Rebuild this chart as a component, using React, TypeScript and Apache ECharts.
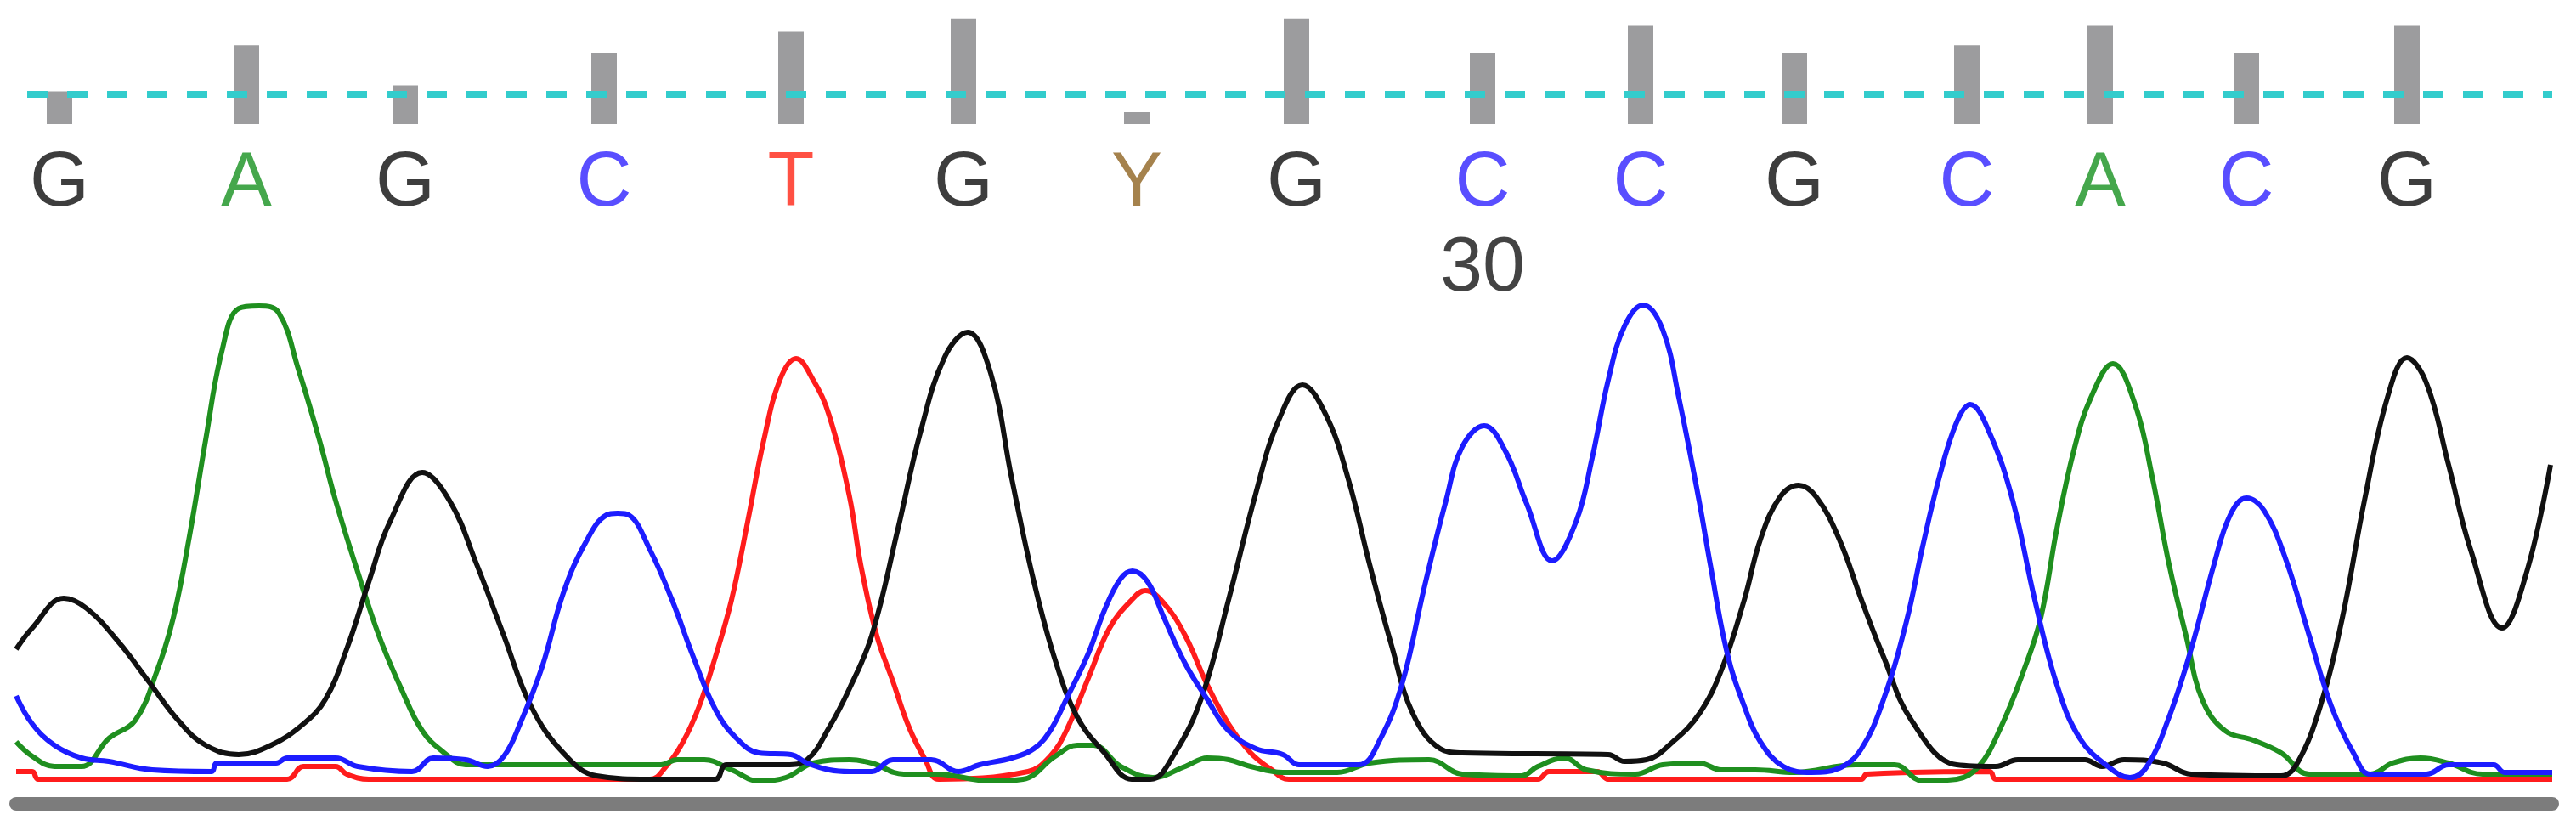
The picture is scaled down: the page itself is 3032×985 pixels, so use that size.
import React, { useEffect, useRef } from "react";
import * as echarts from "echarts";

// Base calls (scan position of each call, quality value)
const bases = ["G", "A", "G", "C", "T", "G", "Y", "G", "C", "C", "G", "C", "A", "C", "G"];
const basePositions = [51, 271, 458, 692, 912, 1115, 1319, 1507, 1726, 1912, 2093, 2296, 2453, 2625, 2814];
const qualities = [22, 53, 26, 48, 62, 71, 8, 71, 48, 66, 48, 53, 66, 48, 66];
const qualityThreshold = 20;
const firstBaseNumber = 22;
const positionMarks = [30];

// Trace samples: [scan, signal]
const traceG: number[][] = [
  [0, 182], [19, 207], [56, 242], [83, 230], [121, 190], [156, 144], [191, 98], [223, 69], [262, 58],
  [300, 69], [338, 94], [364, 123], [389, 182], [415, 261], [440, 332], [478, 390], [510, 357],
  [542, 282], [574, 198], [606, 115], [644, 60], [683, 33], [746, 29], [823, 29], [836, 46], [906, 46],
  [931, 52], [957, 90], [981, 136], [1007, 198], [1038, 324], [1064, 436], [1093, 526], [1120, 555],
  [1147, 507], [1172, 382], [1198, 261], [1223, 169], [1249, 102], [1281, 60], [1313, 29], [1335, 29],
  [1364, 60], [1396, 127], [1427, 240], [1459, 365], [1485, 449], [1514, 493], [1542, 457], [1568, 382],
  [1593, 282], [1619, 186], [1644, 106], [1676, 65], [1702, 60], [1874, 58], [1893, 50], [1919, 52],
  [1950, 73], [1981, 106], [2007, 157], [2034, 240], [2053, 311], [2076, 361], [2098, 375], [2119, 361],
  [2146, 311], [2172, 240], [2198, 173], [2231, 98], [2284, 46], [2330, 44], [2356, 52], [2435, 52],
  [2455, 44], [2481, 52], [2527, 48], [2560, 35], [2666, 33], [2685, 48], [2712, 115], [2738, 219],
  [2764, 357], [2791, 478], [2814, 525], [2837, 495], [2863, 399], [2889, 299], [2926, 207], [2955, 273],
  [2983, 399],
];

const traceA: number[][] = [
  [0, 73], [19, 56], [45, 44], [77, 44], [109, 77], [140, 98], [166, 157], [185, 219], [204, 315],
  [223, 428], [242, 532], [262, 583], [286, 586], [309, 578], [332, 512], [357, 428], [376, 357],
  [402, 273], [427, 198], [453, 136], [478, 86], [504, 60], [529, 46], [759, 46], [778, 52], [810, 52],
  [842, 40], [874, 27], [906, 31], [938, 48], [981, 52], [1007, 48], [1045, 35], [1083, 35], [1147, 27],
  [1185, 29], [1223, 56], [1249, 69], [1268, 69], [1300, 44], [1338, 31], [1376, 44], [1402, 54],
  [1427, 52], [1453, 44], [1491, 37], [1555, 37], [1593, 48], [1663, 52], [1702, 35], [1772, 33],
  [1791, 44], [1823, 54], [1848, 40], [1906, 35], [1938, 46], [1981, 48], [2007, 40], [2047, 40],
  [2093, 37], [2165, 46], [2211, 46], [2244, 27], [2284, 29], [2310, 44], [2336, 90], [2363, 157],
  [2383, 219], [2402, 324], [2422, 416], [2442, 478], [2468, 518], [2494, 470], [2514, 386], [2534, 282],
  [2554, 198], [2573, 123], [2600, 86], [2633, 75], [2666, 60], [2699, 35], [2771, 35], [2797, 48],
  [2830, 54], [2863, 48], [2903, 35], [2985, 35],
];

const traceC: number[][] = [
  [0, 127], [19, 94], [45, 69], [77, 54], [109, 50], [160, 40], [230, 38], [236, 48], [306, 48],
  [319, 54], [376, 54], [402, 44], [466, 38], [491, 54], [529, 52], [555, 44], [574, 56], [593, 94],
  [619, 161], [644, 248], [670, 307], [695, 340], [708, 342], [721, 340], [746, 299], [772, 240],
  [797, 173], [823, 111], [848, 77], [874, 60], [912, 58], [931, 48], [957, 40], [981, 38], [1007, 38],
  [1032, 52], [1077, 52], [1109, 38], [1134, 46], [1172, 54], [1198, 65], [1217, 86], [1236, 123],
  [1262, 177], [1281, 228], [1300, 265], [1314, 274], [1332, 261], [1351, 219], [1376, 165], [1402, 123],
  [1427, 86], [1459, 65], [1491, 58], [1510, 46], [1580, 46], [1606, 77], [1632, 144], [1657, 253],
  [1683, 357], [1702, 420], [1728, 445], [1753, 415], [1778, 353], [1808, 286], [1836, 332], [1855, 407],
  [1874, 499], [1893, 562], [1915, 587], [1938, 558], [1957, 478], [1981, 356], [1994, 282], [2014, 177],
  [2034, 115], [2053, 73], [2080, 44], [2113, 37], [2146, 42], [2172, 65], [2198, 123], [2225, 215],
  [2244, 303], [2264, 386], [2284, 449], [2300, 470], [2323, 436], [2350, 357], [2376, 240], [2402, 140],
  [2429, 77], [2462, 44], [2488, 31], [2508, 44], [2534, 102], [2560, 182], [2587, 282], [2606, 340],
  [2625, 360], [2646, 345], [2672, 286], [2699, 198], [2725, 115], [2751, 60], [2771, 35], [2837, 35],
  [2863, 46], [2916, 46], [2929, 37], [2985, 37],
];

const traceT: number[][] = [
  [0, 38], [19, 38], [26, 29], [319, 29], [338, 44], [376, 44], [389, 35], [415, 29], [746, 29],
  [765, 44], [785, 73], [804, 115], [823, 173], [842, 240], [861, 332], [880, 428], [899, 499],
  [918, 524], [938, 499], [957, 457], [981, 361], [994, 282], [1013, 198], [1032, 144], [1051, 90],
  [1070, 52], [1086, 29], [1191, 38], [1217, 56], [1236, 86], [1262, 148], [1287, 207], [1313, 240],
  [1329, 251], [1351, 236], [1376, 198], [1402, 140], [1427, 94], [1453, 60], [1478, 40], [1498, 29],
  [1791, 29], [1804, 38], [1861, 38], [1874, 29], [2172, 29], [2178, 35], [2323, 38], [2330, 29],
  [2985, 29],
];

const baseColors: Record<string, string> = {
  G: "#0c0c0c",
  A: "#17911f",
  C: "#2f22ff",
  T: "#ff2414",
  Y: "#8f6320",
};

const traceColors = { G: "#111111", A: "#1f8f1f", C: "#1c1cff", T: "#ff1c1c" };

const SCAN_MAX = 2985;
const LETTER_ROW = -37;
const NUMBER_ROW = -94;

export default function App() {
  const ref = useRef<HTMLDivElement>(null);
  useEffect(() => {
    if (!ref.current) return;
    const chart = echarts.init(ref.current, undefined, { renderer: "svg" });
    const font = "'Liberation Sans', Arial, sans-serif";
    const traceSeries = (name: string, data: number[][], color: string) => ({
      name,
      type: "line",
      xAxisIndex: 1,
      yAxisIndex: 1,
      data,
      symbol: "none",
      showSymbol: false,
      smooth: 0.4,
      lineStyle: { color, width: 6 },
      silent: true,
    });
    chart.setOption({
      animation: false,
      backgroundColor: "#ffffff",
      grid: [
        { left: 19, right: 28, top: 6, height: 315 },
        { left: 19, right: 28, top: 346, bottom: 39 },
      ],
      xAxis: [
        { gridIndex: 0, type: "value", min: 0, max: SCAN_MAX, show: false },
        {
          gridIndex: 1,
          type: "value",
          min: 0,
          max: SCAN_MAX,
          axisLine: { show: true, lineStyle: { color: "#7c7c7c", width: 16 } },
          axisTick: { show: false },
          axisLabel: { show: false },
          splitLine: { show: false },
        },
      ],
      yAxis: [
        { gridIndex: 0, type: "value", min: -100, max: 80, show: false },
        { gridIndex: 1, type: "value", min: 0, max: 600, show: false },
      ],
      series: [
        {
          name: "quality",
          type: "bar",
          xAxisIndex: 0,
          yAxisIndex: 0,
          barWidth: 30,
          data: basePositions.map((p, i) => [p, qualities[i]]),
          itemStyle: { color: "#9c9c9e" },
          silent: true,
          markLine: {
            symbol: "none",
            silent: true,
            label: { show: false },
            lineStyle: { color: "#33cccc", width: 8, type: [24, 23] },
            data: [[{ coord: [13, qualityThreshold] }, { coord: [SCAN_MAX, qualityThreshold] }]],
          },
        },
        {
          name: "bases",
          type: "scatter",
          xAxisIndex: 0,
          yAxisIndex: 0,
          symbolSize: 1,
          itemStyle: { color: "rgba(0,0,0,0)" },
          silent: true,
          data: bases.map((b, i) => ({
            value: [basePositions[i], LETTER_ROW],
            label: { color: baseColors[b] },
          })),
          label: {
            show: true,
            position: "inside",
            formatter: (p: any) => bases[p.dataIndex],
            fontSize: 90,
            fontFamily: font,
          },
        },
        {
          name: "positions",
          type: "scatter",
          xAxisIndex: 0,
          yAxisIndex: 0,
          symbolSize: 1,
          itemStyle: { color: "rgba(0,0,0,0)" },
          silent: true,
          data: positionMarks.map((n) => [basePositions[n - firstBaseNumber], NUMBER_ROW]),
          label: {
            show: true,
            position: "inside",
            formatter: (p: any) => String(positionMarks[p.dataIndex]),
            fontSize: 90,
            fontFamily: font,
            color: "#141414",
          },
        },
        traceSeries("T", traceT, traceColors.T),
        traceSeries("A", traceA, traceColors.A),
        traceSeries("G", traceG, traceColors.G),
        traceSeries("C", traceC, traceColors.C),
      ],
    });
    return () => chart.dispose();
  }, []);
  return (
    <div
      ref={ref}
      style={{ position: "absolute", left: 0, top: 0, width: 3032, height: 985, background: "#fff" }}
    />
  );
}
